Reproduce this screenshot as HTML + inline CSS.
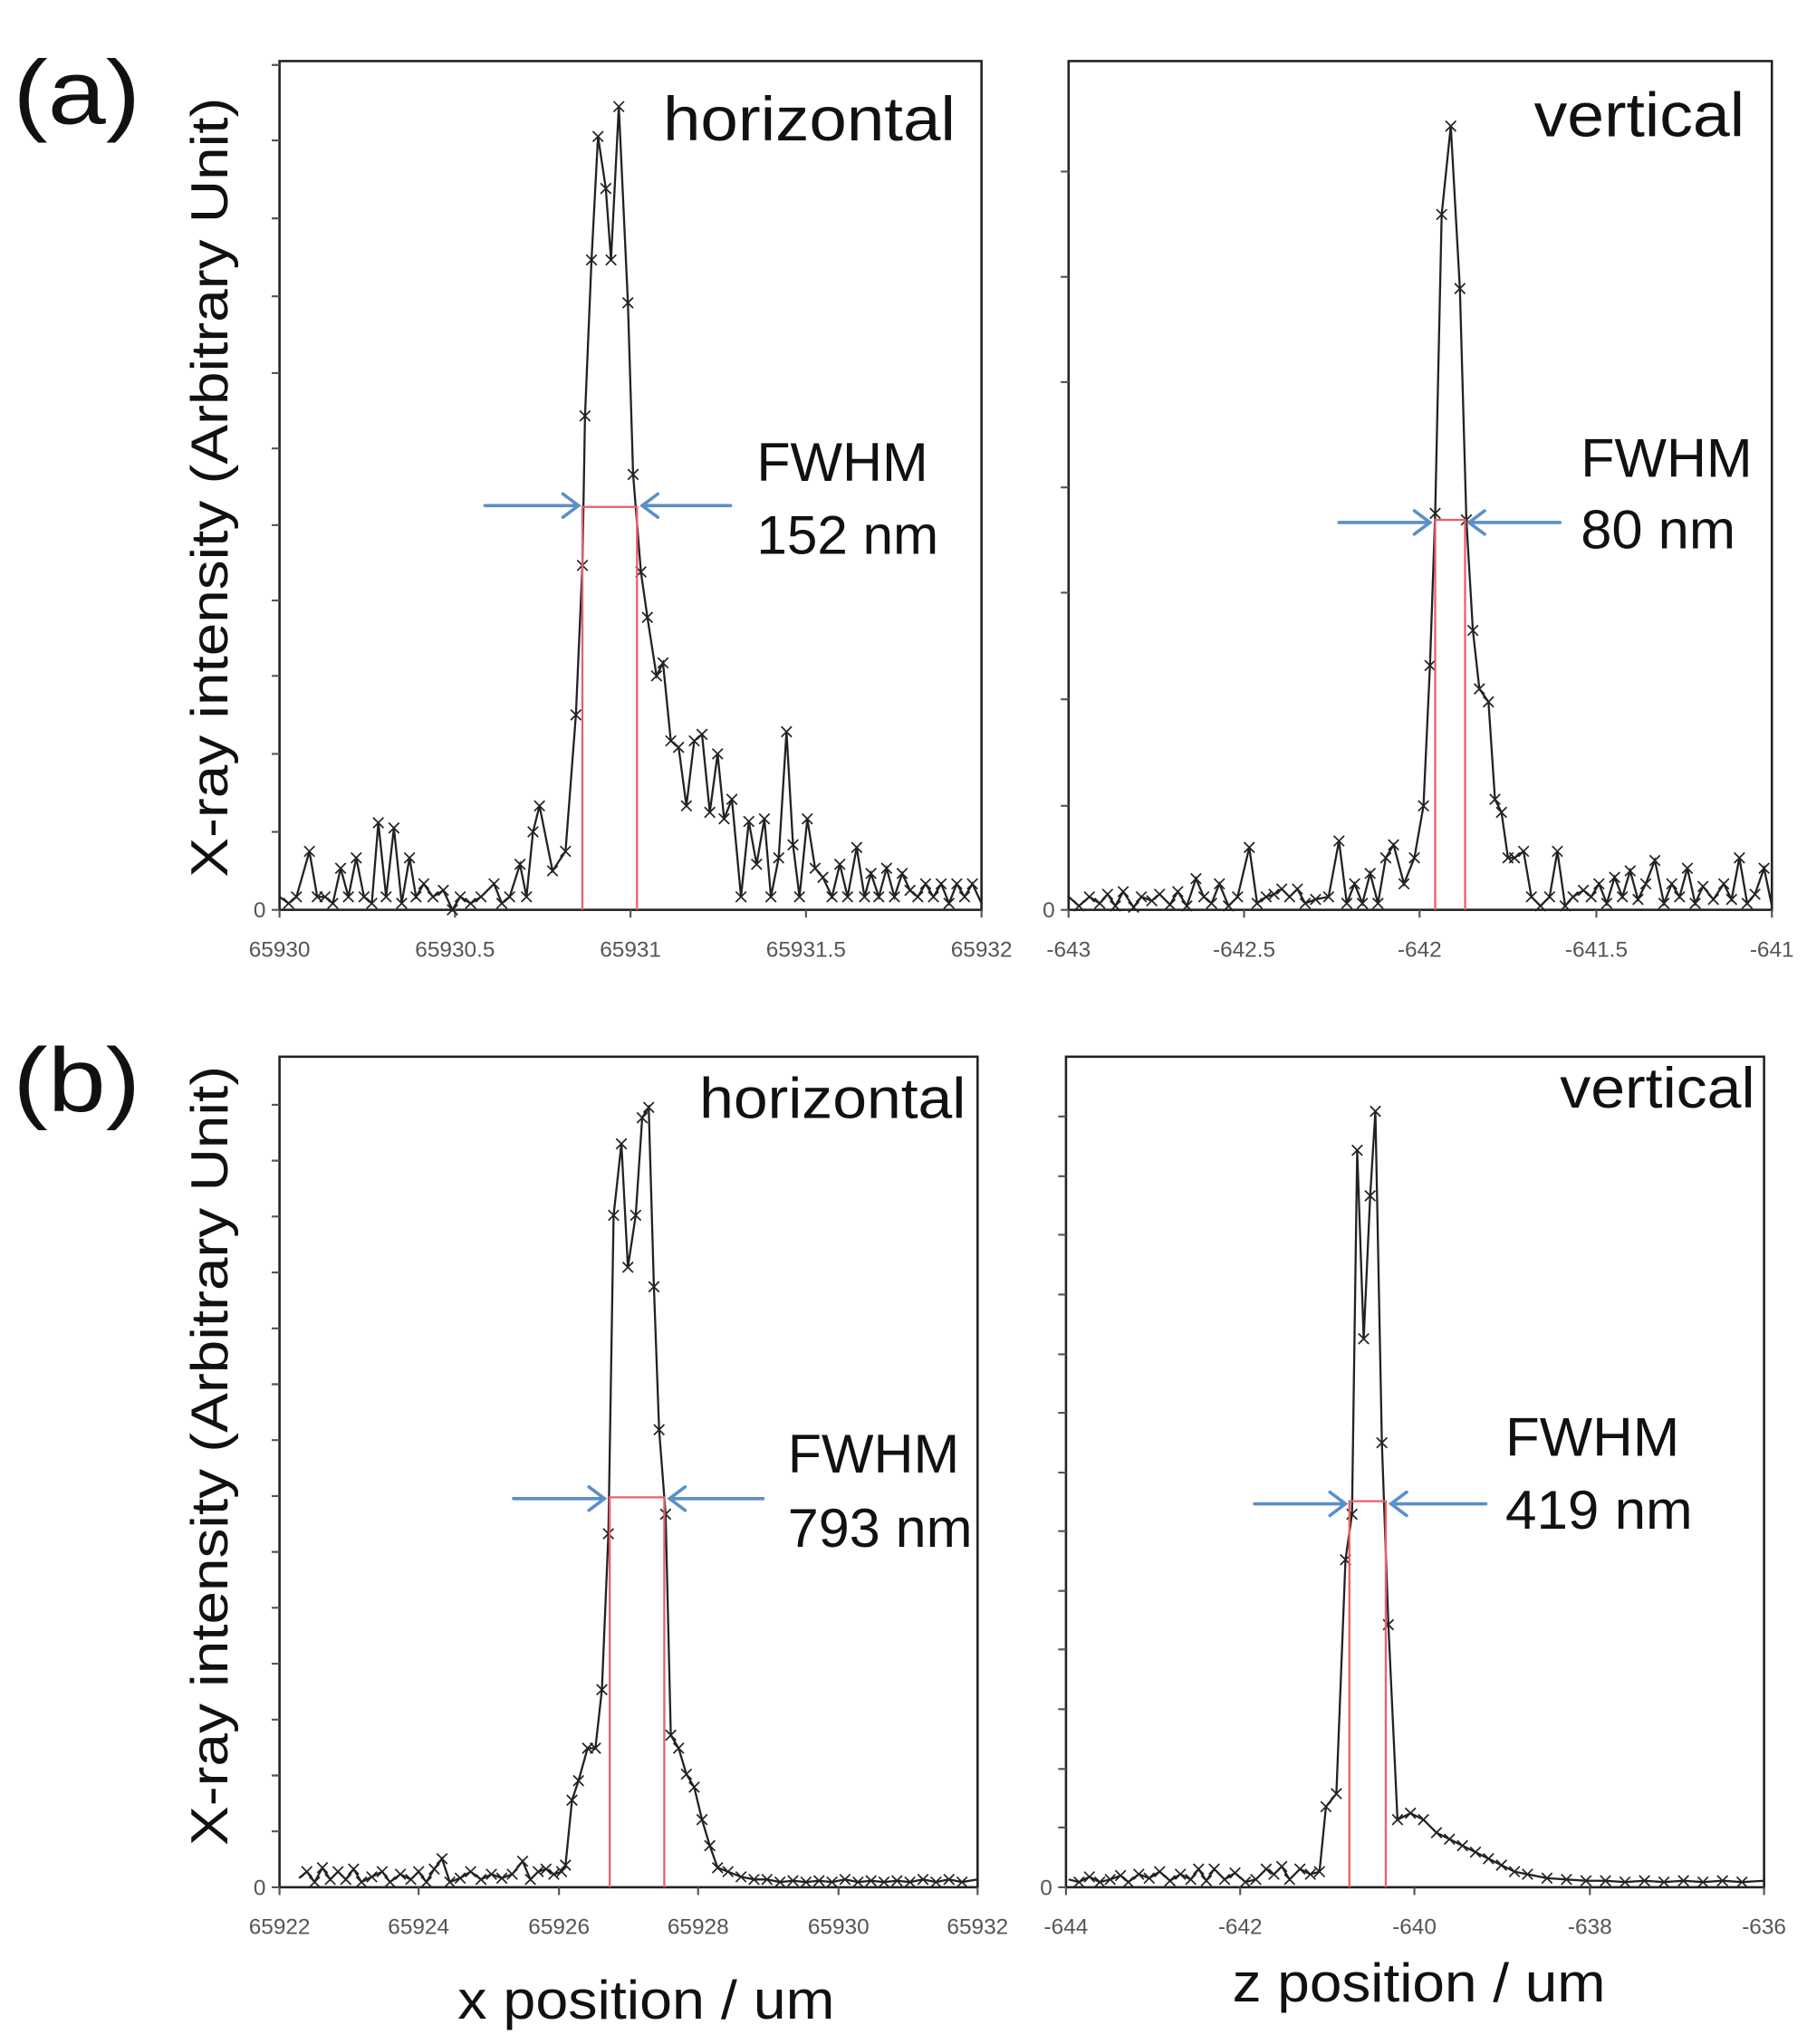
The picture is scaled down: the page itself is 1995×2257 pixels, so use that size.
<!DOCTYPE html>
<html><head><meta charset="utf-8"><style>html,body{margin:0;padding:0;background:#fff}svg{display:block}</style></head>
<body>
<svg width="1995" height="2257" viewBox="0 0 1390 1572.6" xmlns="http://www.w3.org/2000/svg" font-family="'Liberation Sans','DejaVu Sans',sans-serif">
<defs>
<marker id="m" viewBox="-5 -5 10 10" markerWidth="10" markerHeight="10" markerUnits="userSpaceOnUse"><path d="M-4-4L4 4M-4 4L4-4" stroke="#222" stroke-width="1.2"/></marker>
</defs>
<g fill="none" stroke="#222" stroke-width="1.8">
<rect x="215" y="47" width="540" height="653"/>
<rect x="822" y="47" width="541" height="653"/>
<rect x="215" y="813" width="537" height="639"/>
<rect x="820" y="813" width="537" height="639"/>
</g>
<g stroke="#555" stroke-width="1.5">
<path d="M209 700h6M209 640h6M209 580h6M209 520h6M209 462h6M209 404h6M209 345h6M209 287h6M209 228h6M209 168h6M209 108h6M209 50h6"/>
<path d="M816 700h6M816 620h6M816 538h6M816 456h6M816 375h6M816 294h6M816 213h6M816 132h6"/>
<path d="M209 1452h6M209 1409h6M209 1366h6M209 1323h6M209 1280h6M209 1237h6M209 1194h6M209 1151h6M209 1108h6M209 1065h6M209 1022h6M209 979h6M209 936h6M209 893h6M209 850h6"/>
<path d="M814 1452h6M814 1406h6M814 1361h6M814 1315h6M814 1269h6M814 1224h6M814 1178h6M814 1133h6M814 1087h6M814 1042h6M814 996h6M814 950h6M814 905h6M814 859h6"/>
<path d="M215 700v6M350 700v6M485 700v6M620 700v6M755 700v6M822 700v6M957 700v6M1092 700v6M1228 700v6M1363 700v6"/>
<path d="M215 1452v6M322 1452v6M430 1452v6M537 1452v6M645 1452v6M752 1452v6M820 1452v6M954 1452v6M1088 1452v6M1223 1452v6M1357 1452v6"/>
</g>
<g font-size="17" fill="#555">
<text x="195" y="706">0</text><text x="802" y="706">0</text><text x="195" y="1458">0</text><text x="800" y="1458">0</text>
<g text-anchor="middle">
<text x="215" y="736">65930</text><text x="350" y="736">65930.5</text><text x="485" y="736">65931</text><text x="620" y="736">65931.5</text><text x="755" y="736">65932</text>
<text x="822" y="736">-643</text><text x="957" y="736">-642.5</text><text x="1092" y="736">-642</text><text x="1228" y="736">-641.5</text><text x="1363" y="736">-641</text>
<text x="215" y="1488">65922</text><text x="322" y="1488">65924</text><text x="430" y="1488">65926</text><text x="537" y="1488">65928</text><text x="645" y="1488">65930</text><text x="752" y="1488">65932</text>
<text x="820" y="1488">-644</text><text x="954" y="1488">-642</text><text x="1088" y="1488">-640</text><text x="1223" y="1488">-638</text><text x="1357" y="1488">-636</text>
</g></g>
<g fill="none" stroke="#222" stroke-width="1.6" marker-mid="url(#m)">
<polyline points="215,690 222,695 228,690 238,655 244,690 250,690 256,695 262,668 268,690 274,660 280,690 286,695 291,633 297,690 303,637 309,695 315,660 320,690 326,680 333,690 341,685 348,700 354,690 362,695 370,690 380,680 386,695 392,690 400,665 405,690 410,640 415,620 425,670 435,655 443,550 448,435 450,320 455,200 460,105 466,145 470,200 476,82 483,233 487,365 493,440 498,475 505,520 510,510 516,570 522,575 528,620 534,570 540,565 546,625 552,580 557,630 563,615 570,690 576,632 582,665 588,630 593,690 599,660 605,563 610,650 615,690 621,630 627,668 633,675 640,690 646,665 652,690 659,652 665,690 670,672 676,690 682,668 688,690 694,672 700,685 706,690 712,680 718,690 724,680 730,695 736,680 742,690 748,680 755,695"/>
<polyline points="822,690 830,697 838,690 846,695 852,688 858,697 864,686 872,698 878,690 886,693 892,688 900,696 906,686 913,697 920,676 926,690 932,695 938,680 945,697 952,690 961,652 967,695 974,690 980,688 986,684 992,690 998,684 1004,695 1012,692 1022,690 1030,647 1036,695 1042,680 1048,695 1054,672 1060,695 1066,660 1072,650 1080,680 1088,660 1095,620 1100,512 1104,395 1109,165 1116,97 1123,222 1128,400 1133,485 1138,530 1145,540 1150,615 1155,625 1160,660 1165,660 1172,655 1178,690 1185,697 1192,690 1198,655 1204,697 1210,690 1218,685 1224,690 1230,680 1236,695 1242,675 1248,690 1254,670 1260,692 1266,680 1273,662 1280,695 1286,680 1292,690 1298,668 1304,695 1310,682 1318,692 1326,680 1332,692 1338,660 1344,695 1350,688 1357,668 1363,697"/>
<polyline points="230,1445 236,1440 242,1448 248,1437 254,1446 260,1440 266,1446 272,1438 278,1448 286,1444 294,1440 300,1448 308,1442 316,1446 322,1440 328,1448 334,1438 340,1430 346,1448 354,1445 362,1440 370,1446 378,1442 386,1445 394,1442 402,1432 408,1446 414,1440 420,1438 426,1442 432,1440 435,1435 440,1385 445,1370 452,1345 458,1345 463,1300 468,1180 472,935 478,880 483,975 489,935 494,860 499,852 503,990 507,1100 512,1165 516,1335 522,1345 528,1365 534,1375 540,1400 546,1420 552,1437 560,1440 570,1444 580,1446 590,1446 600,1448 610,1447 620,1448 630,1447 640,1448 650,1446 660,1448 670,1447 680,1448 690,1447 700,1448 710,1446 720,1448 730,1446 740,1448 752,1446"/>
<polyline points="822,1446 830,1448 838,1444 846,1448 854,1446 862,1443 868,1448 876,1442 884,1445 892,1440 900,1447 908,1442 916,1446 922,1438 928,1447 934,1438 942,1446 950,1441 958,1448 966,1446 974,1438 980,1442 986,1436 992,1446 1000,1438 1008,1442 1015,1440 1020,1390 1028,1380 1035,1200 1040,1165 1044,885 1049,1030 1054,920 1058,855 1063,1110 1068,1250 1075,1400 1085,1395 1095,1400 1105,1410 1115,1415 1125,1420 1135,1425 1145,1430 1155,1435 1165,1440 1175,1442 1190,1445 1205,1446 1220,1447 1235,1447 1250,1448 1265,1447 1280,1448 1295,1447 1310,1448 1325,1447 1340,1448 1357,1447"/>
</g>
<g stroke="#e8606a" stroke-width="1.6" fill="none">
<path d="M448 700V390H490V700"/>
<path d="M1104 700V400H1127V700"/>
<path d="M469 1452V1152H511V1452"/>
<path d="M1038 1452V1155H1066V1452"/>
</g>
<g stroke="#5b8fc7" stroke-width="2.5" fill="none" stroke-linecap="round">
<path d="M373 389H445M433 380L445 389L433 398M562 389H494M506 380L494 389L506 398"/>
<path d="M1030 402H1100M1088 393L1100 402L1088 411M1200 402H1130M1142 393L1130 402L1142 411"/>
<path d="M395 1153H465M453 1144L465 1153L453 1162M587 1153H515M527 1144L515 1153L527 1162"/>
<path d="M965 1157H1035M1023 1148L1035 1157L1023 1166M1143 1157H1070M1082 1148L1070 1157L1082 1166"/>
</g>
<g fill="#111" lengthAdjust="spacingAndGlyphs">
<text x="10" y="95" font-size="70" textLength="98" lengthAdjust="spacingAndGlyphs">(a)</text>
<text x="10" y="855" font-size="70" textLength="98" lengthAdjust="spacingAndGlyphs">(b)</text>
<text x="510" y="108" font-size="48" textLength="225" lengthAdjust="spacingAndGlyphs">horizontal</text>
<text x="1180" y="105" font-size="48" textLength="162" lengthAdjust="spacingAndGlyphs">vertical</text>
<text x="538" y="860" font-size="44" textLength="205" lengthAdjust="spacingAndGlyphs">horizontal</text>
<text x="1200" y="852" font-size="44" textLength="150" lengthAdjust="spacingAndGlyphs">vertical</text>
<g font-size="42">
<text x="582" y="370" textLength="132" lengthAdjust="spacingAndGlyphs">FWHM</text><text x="582" y="426" textLength="140" lengthAdjust="spacingAndGlyphs">152 nm</text>
<text x="1216" y="367" textLength="132" lengthAdjust="spacingAndGlyphs">FWHM</text><text x="1216" y="422" textLength="119" lengthAdjust="spacingAndGlyphs">80 nm</text>
<text x="606" y="1133" textLength="132" lengthAdjust="spacingAndGlyphs">FWHM</text><text x="606" y="1190" textLength="142" lengthAdjust="spacingAndGlyphs">793 nm</text>
<text x="1158" y="1120" textLength="134" lengthAdjust="spacingAndGlyphs">FWHM</text><text x="1158" y="1176" textLength="144" lengthAdjust="spacingAndGlyphs">419 nm</text>
<text x="352" y="1553" textLength="290" lengthAdjust="spacingAndGlyphs">x position / um</text>
<text x="948" y="1540" textLength="287" lengthAdjust="spacingAndGlyphs">z position / um</text>
<text transform="translate(175,675) rotate(-90)" font-size="40" textLength="600" lengthAdjust="spacingAndGlyphs">X-ray intensity (Arbitrary Unit)</text>
<text transform="translate(175,1420) rotate(-90)" font-size="40" textLength="600" lengthAdjust="spacingAndGlyphs">X-ray intensity (Arbitrary Unit)</text>
</g></g>
</svg>
</body></html>
